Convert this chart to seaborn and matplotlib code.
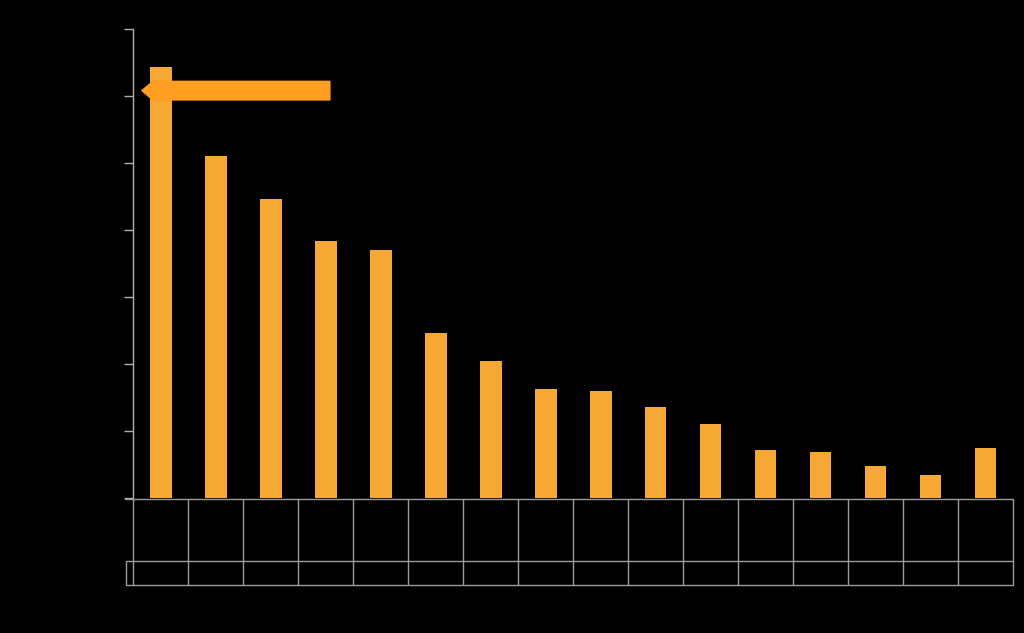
import matplotlib
matplotlib.use("Agg")
import matplotlib.pyplot as plt
from matplotlib.lines import Line2D
import seaborn as sns
import pandas as pd

# Data (axis units 0-7)
categories = [f"C{i}" for i in range(1, 17)]
values = [6.44, 5.11, 4.46, 3.83, 3.70, 2.46, 2.04, 1.62,
          1.59, 1.36, 1.10, 0.72, 0.69, 0.48, 0.34, 0.75]
y_ticks = [0, 1, 2, 3, 4, 5, 6, 7]

BAR = "#F5A833"
ARROW = "#FF9E20"
LINE = "#9a9a9a"

sns.set_theme(style="white")
W, H = 1024, 633
fig = plt.figure(figsize=(W / 100, H / 100), dpi=100, facecolor="black")

def fx(px):
    return px / W

def fy(py):
    return 1 - py / H

ax = fig.add_axes([fx(133), fy(498), fx(1013) - fx(133), fy(29) - fy(498)])
ax.set_facecolor("black")

df = pd.DataFrame({"cat": categories, "val": values})
sns.barplot(data=df, x="cat", y="val", color=BAR, width=0.4, saturation=1,
            ax=ax, edgecolor="none")

ax.set_xlim(-0.5, len(categories) - 0.5)
ax.set_ylim(0, 7)
ax.set_yticks(y_ticks)
ax.set_yticklabels([])
ax.set_xticks([])
ax.set_xlabel("")
ax.set_ylabel("")
for s in ["top", "right", "bottom"]:
    ax.spines[s].set_visible(False)
ax.spines["left"].set_color("#b0b0b0")
ax.spines["left"].set_linewidth(1.0)
ax.tick_params(axis="y", direction="out", length=6.5, width=1.0,
               color="#b0b0b0", left=True)

# Arrow pointing at the first bar
ax.annotate("", xy=(-0.34, 6.08), xytext=(3.08, 6.08),
            arrowprops=dict(arrowstyle="simple,head_width=1.5,head_length=0.9,tail_width=1.34",
                            mutation_scale=10, color=ARROW, shrinkA=0, shrinkB=0))

# Data-table grid below the chart
def hline(y, x0, x1):
    fig.add_artist(Line2D([fx(x0), fx(x1)], [fy(y), fy(y)], color=LINE, lw=1.0))

def vline(x, y0, y1):
    fig.add_artist(Line2D([fx(x), fx(x)], [fy(y0), fy(y1)], color=LINE, lw=1.0))

hline(498.5, 125, 1013)
hline(561, 126, 1013)
hline(585, 126, 1013)
vline(126, 561, 585)
for k in range(len(categories) + 1):
    vline(133 + 55 * k, 498.5, 585)

fig.savefig("out.png", dpi=100, facecolor="black")
